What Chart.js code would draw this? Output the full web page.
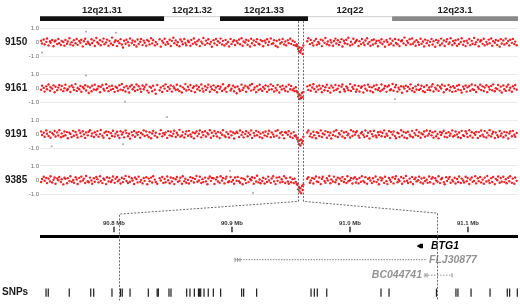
<!DOCTYPE html>
<html><head><meta charset="utf-8">
<script src="https://cdn.jsdelivr.net/npm/chart.js@4"></script>
<style>html,body{margin:0;padding:0;background:#fff;}canvas{display:block;}</style>
</head><body>
<canvas id="c" width="520" height="305"></canvas>
<script>
// ---------------- DATA ----------------
const samples = ['9150', '9161', '9191', '9385'];

const bandNames = ['12q21.31', '12q21.32', '12q21.33', '12q22', '12q23.1'];
const bandStart = [76.87, 83.57, 86.59, 91.34, 95.88];
const bandEnd   = [83.57, 86.59, 91.34, 95.88, 102.68];
const bandStain = ['gpos100', 'gneg', 'gpos100', 'gneg', 'gpos75'];

const zoomStart = 90.804, zoomEnd = 91.074;
const zoomTicks = [90.8, 90.9, 91.0, 91.1];
const panelTicks = [-1, 0, 1];

// probe positions (Mb) shared by all samples
const probePos = [
76.93,76.98,77.07,77.12,77.21,77.25,77.33,77.41,77.44,77.53,77.60,77.66,77.71,77.80,77.86,77.91,78.00,78.04,78.13,78.19,
78.24,78.33,78.37,78.46,78.51,78.58,78.66,78.70,78.79,78.85,78.90,78.99,79.05,79.10,79.18,79.24,79.31,79.36,79.45,79.50,
79.57,79.65,79.69,79.78,79.83,79.91,79.97,80.03,80.11,80.15,80.24,80.30,80.35,80.44,80.49,80.57,80.62,80.70,80.76,80.81,
80.90,80.95,81.03,81.08,81.16,81.22,81.29,81.35,81.41,81.49,81.54,81.62,81.68,81.73,81.82,81.87,81.95,82.00,82.08,82.14,
82.20,82.28,82.33,82.41,82.47,82.52,82.61,82.66,82.74,82.79,82.87,82.93,82.98,83.07,83.12,83.20,83.33,83.39,83.47,83.53,
83.60,83.65,83.74,83.79,83.87,83.93,83.99,84.07,84.12,84.20,84.26,84.31,84.40,84.45,84.53,84.58,84.66,84.72,84.77,84.86,
84.91,84.99,85.04,85.12,85.18,85.24,85.32,85.37,85.45,85.50,85.58,85.64,85.69,85.78,85.83,85.91,85.96,86.04,86.10,86.15,
86.24,86.29,86.37,86.43,86.48,86.57,86.62,86.70,86.75,86.83,86.89,86.94,87.03,87.08,87.16,87.21,87.29,87.35,87.40,87.49,
87.54,87.62,87.67,87.75,87.81,87.86,87.95,88.00,88.08,88.13,88.21,88.27,88.32,88.41,88.46,88.54,88.59,88.67,88.73,88.78,
88.87,88.92,89.00,89.05,89.13,89.19,89.24,89.33,89.38,89.46,89.51,89.59,89.65,89.70,89.79,89.84,89.92,89.97,90.05,90.11,
90.16,90.25,90.30,90.38,90.43,90.51,90.57,90.62,90.68,90.73,90.77,90.81,90.85,90.89,90.93,90.97,91.01,91.05,91.09,91.30,
91.36,91.44,91.49,91.57,91.63,91.68,91.77,91.82,91.90,91.95,92.03,92.09,92.14,92.23,92.28,92.36,92.41,92.49,92.55,92.60,
92.69,92.74,92.82,92.87,92.95,93.01,93.06,93.15,93.20,93.28,93.33,93.41,93.47,93.52,93.61,93.66,93.74,93.79,93.87,93.93,
93.98,94.07,94.12,94.20,94.25,94.33,94.39,94.44,94.53,94.58,94.66,94.71,94.79,94.85,94.90,94.99,95.04,95.12,95.17,95.25,
95.31,95.36,95.45,95.50,95.58,95.63,95.71,95.77,95.82,95.91,95.96,96.04,96.09,96.17,96.23,96.28,96.37,96.42,96.50,96.55,
96.63,96.69,96.74,96.83,96.88,96.96,97.01,97.09,97.15,97.20,97.29,97.34,97.42,97.47,97.55,97.61,97.66,97.75,97.80,97.88,
97.93,98.01,98.07,98.12,98.21,98.26,98.34,98.39,98.47,98.53,98.58,98.67,98.72,98.80,98.85,98.93,98.99,99.04,99.13,99.18,
99.26,99.31,99.39,99.45,99.50,99.59,99.64,99.72,99.77,99.85,99.91,99.96,100.05,100.10,100.18,100.23,100.31,100.37,100.42,100.51,
100.56,100.64,100.69,100.77,100.83,100.88,100.97,101.02,101.10,101.15,101.23,101.29,101.34,101.43,101.48,101.56,101.61,101.69,101.75,101.80,
101.89,101.94,102.02,102.07,102.15,102.21,102.26,102.35,102.40,102.48,102.53,102.61
];

// log2 ratios x100, one value per probe
const log2_9150 = [
12,-8,21,-15,4,28,-22,9,-3,17,-27,6,14,-11,25,-5,-19,11,3,-24,
18,-9,7,30,-14,2,-21,15,-6,24,-17,10,-2,19,-28,8,26,-12,5,-7,
-16,22,-4,13,-25,31,1,-10,16,-20,6,27,-13,-1,20,-23,11,-8,34,-18,
3,15,-26,9,-5,23,-15,-36,12,-9,19,2,-22,28,-4,14,-17,7,-29,21,
-11,5,25,-19,13,-2,-24,18,8,-14,29,-7,16,-21,3,-12,22,-30,10,-3,
26,-16,4,-9,19,-25,11,33,-6,14,-18,1,-27,21,7,-13,24,-4,-20,12,
2,-23,17,-10,28,-1,-15,9,20,-26,6,-8,31,-17,13,-5,22,-12,4,-31,
16,-7,24,-19,8,-3,27,-14,11,-22,18,-9,3,-28,25,-11,6,15,-18,10,
-4,21,-13,30,-24,7,-1,19,-16,12,-29,26,-6,14,-20,4,23,-9,-15,17,
9,-27,13,-2,22,-18,5,28,-11,-6,16,-23,10,-32,19,-8,2,24,-14,7,
-21,15,-5,26,-10,12,-19,4,-24,-15,-28,-46,-62,-35,-71,-55,-40,-82,-22,8,
29,-12,18,-4,-22,11,25,-16,3,-9,20,-26,14,-3,31,-13,7,-20,17,-1,
-24,10,27,-8,15,-17,2,23,-29,12,-6,19,-11,33,-21,5,-14,26,-3,8,
18,-25,9,-12,24,-2,-18,14,29,-9,4,-23,16,-15,21,-6,10,-27,13,-1,
22,-11,6,-30,17,3,-16,27,-8,12,-21,25,-4,-13,19,-26,8,15,-7,34,
-19,11,-2,23,-14,28,-9,5,-24,16,1,-17,26,-10,7,-28,20,-5,13,-22,
4,25,-15,9,-31,18,-3,12,-20,27,-8,14,-25,6,22,-12,-1,30,-18,10,
-6,16,-23,21,-11,3,29,-16,8,-26,13,-4,24,-19,11,-9,32,-14,2,19,
-27,7,15,-10,26,-21,4,-13,20,-5,28,-24,9,-2,17,-18,12,-30,23,-8,
14,-15,27,-6,10,-22,19,-3,25,-12,6,-20
];
const log2_9161 = [
-10,19,3,-23,14,-6,27,-17,8,-2,21,-28,11,-13,5,24,-9,16,-20,1,
25,-14,-4,12,-26,20,7,-11,30,-18,3,-7,17,-24,9,-1,22,-15,13,-33,
6,-21,18,-8,26,-12,-3,15,-27,10,23,-5,-16,29,2,-20,14,-10,19,-4,
-25,11,4,-17,22,-9,31,-13,7,-22,16,-1,-29,13,24,-6,8,-19,27,-11,
15,-3,-24,20,-7,9,26,-16,-30,12,4,-21,18,-10,-38,23,-14,6,-26,17,
-2,28,-18,10,-5,21,-23,14,1,-12,25,-8,-20,16,-29,7,-4,30,-15,11,
-9,24,-19,3,13,-27,20,-6,9,-16,27,-2,-22,15,-11,5,26,-24,12,-7,
21,-13,6,-28,17,-4,11,-19,29,-8,2,-25,14,23,-15,-3,19,-21,8,-35,
13,-6,-20,26,-11,4,18,-24,10,-1,22,-16,31,-9,6,-27,15,-12,25,-5,
-18,9,-3,21,-25,14,-10,28,-6,17,-22,3,-14,24,-29,11,-8,19,-2,-17,
12,-23,26,-7,16,-13,-2,-20,8,-18,-30,-58,-42,-75,-50,-68,-33,-61,-26,14,
-11,22,-17,6,29,-5,-24,13,-9,20,-1,-27,16,-14,8,25,-19,3,-30,18,
5,-16,24,-10,-2,19,-26,11,27,-7,-21,14,2,-13,30,-18,9,-4,22,-24,
-8,17,-22,4,13,-29,21,-3,-15,26,10,-19,7,-28,18,-6,24,-12,3,-20,
27,-10,-1,16,-25,12,20,-14,-6,31,-17,8,23,-23,4,-9,15,-31,11,-2,
19,-21,10,-5,28,-16,2,-26,14,-8,25,-12,-3,18,-20,9,-27,22,-11,6,
-14,13,29,-22,5,-7,21,-18,11,-1,26,-28,17,-10,-4,23,-15,8,-25,15,
3,-20,18,-9,24,-13,-30,12,-4,20,-23,7,16,-17,27,-6,-11,21,-26,10,
-3,25,-12,14,-19,6,22,-27,9,-8,17,-14,28,-21,1,-5,24,-16,12,-29,
20,-6,-18,11,26,-13,4,-24,15,-2,23,-10
];
const log2_9191 = [
20,-5,11,-18,26,3,-12,17,-25,8,-2,23,-16,13,-9,29,-21,6,-14,19,
-7,15,-28,10,2,-19,24,-11,16,-4,-23,27,9,-15,21,-1,-26,12,-8,18,
28,-13,5,-20,14,-3,22,-17,1,30,-10,-24,11,19,-6,16,-29,7,-12,25,
-16,4,18,-9,-27,21,-2,13,-22,26,8,-14,3,-31,15,-7,23,-18,10,-4,
17,-24,9,-1,27,-12,20,-6,-19,14,-28,5,24,-10,11,-21,2,29,-15,7,
-3,13,-26,22,-8,18,-14,4,25,-20,10,-5,31,-17,-9,15,-23,1,20,-11,
24,-2,-18,12,-29,7,19,-13,3,26,-22,14,-6,21,-16,9,-1,28,-25,11,
-12,23,5,-16,17,-27,10,-4,29,-10,-20,15,2,-23,20,-8,13,-30,6,18,
8,-19,26,-5,14,-22,1,21,-14,11,-3,27,-26,9,-11,24,-7,16,-20,4,
-27,12,-8,19,-15,3,25,-21,13,-1,-17,22,-10,28,-24,7,17,-6,-29,14,
10,-4,21,-18,6,-26,15,-11,-9,-22,-35,-52,-70,-44,-80,-37,-64,-48,-18,12,
26,-15,3,-22,18,-7,-28,14,9,-12,27,-19,5,-2,22,-25,16,-9,11,-30,
-5,20,-13,28,-20,8,-1,24,-16,12,-27,17,-8,4,-23,29,-12,19,-3,13,
22,-10,-24,7,16,-4,-19,26,-12,10,-30,21,1,-15,25,-8,-21,14,-5,18,
-14,9,27,-18,3,-11,23,-26,15,-2,19,-13,-28,11,6,-20,28,-9,16,-23,
11,-28,18,-3,-15,24,-21,8,-6,30,-12,14,-25,5,-1,20,-17,26,-10,3,
23,-8,13,-24,20,-14,2,-29,16,-5,11,25,-18,7,-22,15,-11,4,27,-16,
-9,19,-2,-21,12,-27,24,-7,-13,21,5,-19,28,-10,14,-24,8,-4,17,-26,
15,-12,26,-3,-17,22,-23,10,-8,29,-16,3,18,-27,12,-6,-20,23,-11,6,
-21,17,-9,13,-30,5,20,-14,24,-4,-18,9
];
const log2_9385 = [
-13,8,24,-4,15,-21,10,-9,28,-17,3,19,-26,12,-1,22,-14,6,-30,17,
9,-22,14,-6,27,-12,1,-18,21,5,-27,16,-10,25,-3,11,-20,29,-8,-15,
18,-2,-25,13,-11,23,7,-16,28,-5,-21,12,3,-28,20,-9,15,-13,-1,26,
-19,10,22,-8,4,-24,17,-14,9,30,-6,-20,24,-11,13,-3,-27,19,7,-16,
25,-12,2,-23,16,-5,21,-29,11,-7,18,-17,27,4,-13,-26,14,-2,22,-20,
8,-15,26,-1,-22,19,-10,13,-28,6,23,-12,-4,17,-25,28,-7,10,-18,2,
-24,21,-6,15,-17,9,29,-11,-3,24,-20,7,-14,18,-9,-29,12,26,-5,16,
13,-27,4,20,-10,-19,27,-2,16,-23,10,25,-15,-7,22,-12,1,-26,19,-4,
23,-8,-18,14,-29,11,3,-21,26,-14,8,-1,20,-25,15,-10,31,-16,5,-22,
-6,17,-24,9,-13,25,-3,-19,12,28,-9,-28,18,-5,21,-16,6,-11,27,-20,
14,-10,-26,19,-15,7,-21,11,-12,-25,-33,-65,-48,-80,-57,-92,-41,-70,-30,10,
21,-18,-3,16,-24,10,26,-9,-14,19,-28,8,24,-6,-19,13,-2,29,-22,5,
-10,25,-15,3,18,-27,12,-4,22,-13,7,-20,27,-8,-1,16,-24,11,20,-17,
6,-23,15,-11,28,-5,-16,21,-26,9,17,-3,-21,13,-9,26,-14,4,-29,19,
-2,12,-19,24,-7,-28,16,3,-12,20,-23,10,27,-15,5,-6,22,-25,14,-10,
29,-4,-20,11,-13,23,-27,7,18,-9,-1,25,-16,12,-24,17,-7,3,-19,26,
-15,9,20,-26,14,-3,-11,27,-21,6,16,-14,-29,21,-6,10,23,-18,2,-9,
17,-24,8,-13,26,-20,11,-2,-17,24,-8,15,-27,5,19,-12,-5,28,-23,13,
-7,22,-16,4,-25,18,-10,29,-3,-21,14,-13,23,-28,9,-1,26,-18,15,-11,
24,-14,6,-22,17,-8,27,-19,11,-26,19,-5
];

// excluded / outlier probes (Mb, log2 ratio)
const gray9150 = [[79.35, 0.75], [80.97, 0.68], [76.98, -0.72]];
const gray9161 = [[79.35, 0.90], [81.46, -0.95], [96.04, -0.75]];
const gray9191 = [[83.73, 1.22], [77.50, -0.85], [81.35, -0.70]];
const gray9385 = [[87.13, 0.65], [88.37, -0.90]];

// SNP positions (Mb) in the zoomed window
const snpPos = [90.7424,90.7443,90.7621,90.7803,90.7828,90.7983,90.8055,90.8070,90.8136,90.8291,
90.8366,90.8376,90.8466,90.8483,90.8616,90.8644,90.8681,90.8716,90.8726,90.8735,90.8763,90.8799,
90.8842,90.8904,90.9082,90.9099,90.9209,90.9670,90.9698,90.9723,90.9803,91.0263,91.0331,91.0733,
91.0898,91.0915,91.1026,91.1187,91.1333,91.1353,91.1418];

// genes in the zoomed window
const geneNames = ['BTG1', 'FLJ30877', 'BC044741'];
const geneStart = [91.0585, 90.9026, 91.0636];
const geneEnd   = [91.0619, 91.0653, 91.0865];
const exonsFLJ30877 = [90.9026, 90.9047, 90.9068];
const exonsBC044741 = [91.0636, 91.0653, 91.0865];

// ---------------- LAYOUT / STYLE ----------------
const FONT = '"Liberation Sans", Arial, Helvetica, sans-serif';
const X_MIN = 76.87, X_MAX = 102.68, Z_MIN = 90.7373, Z_MAX = 91.1424;
const AXIS_W = 40;
const H_BAND = 17, H_PANEL = 47.333, H_LOW = 98.667;
const PANEL_MIN = -1.735, PANEL_MAX = 1.507;
const BAND_MID = 0.147, BAND_EDGE = 0.265, BAND_LABEL = 0.68;
const LOW_MAX = 9.867;
const ROW_CONN_L = 0.97, ROW_CONN_R = 0.87, ROW_AXLABEL = 1.87, ROW_TICK = 2.55, ROW_AXIS = 3.27;
const ROW_GENE = [4.27, 5.67, 7.27], ROW_SNP = 9.07;
const CONN_BREAK = -1.5;
const stainColor = {gpos100: '#111111', gpos75: '#898989'};
const sampleLog2 = [log2_9150, log2_9161, log2_9191, log2_9385];
const sampleGray = [gray9150, gray9161, gray9191, gray9385];

function lineDs(xid, yid, pts, color, width, dash) {
  return {type: 'line', xAxisID: xid, yAxisID: yid, data: pts.map(([x, y]) => ({x, y})),
    borderColor: color, borderWidth: width, borderDash: dash || [], borderCapStyle: 'butt',
    pointRadius: 0, fill: false, tension: 0};
}
function markDs(xid, yid, pts, opts) {
  return Object.assign({type: 'scatter', xAxisID: xid, yAxisID: yid, showLine: false,
    data: pts.map(([x, y]) => ({x, y}))}, opts);
}

const datasets = [];
bandNames.forEach((n, i) => {
  if (bandStain[i] === 'gneg') {
    datasets.push(lineDs('x', 'yBand', [[bandStart[i], BAND_EDGE], [bandEnd[i], BAND_EDGE]], '#cdcdcd', 1));
  } else {
    datasets.push(lineDs('x', 'yBand', [[bandStart[i], BAND_MID], [bandEnd[i], BAND_MID]], stainColor[bandStain[i]], 5));
  }
});
samples.forEach((s, k) => {
  datasets.push(markDs('x', 'y' + s, probePos.map((p, i) => [p, sampleLog2[k][i] / 100]),
    {pointRadius: 1.2, pointBackgroundColor: 'rgba(236,10,16,0.9)', pointBorderWidth: 0}));
  datasets.push(markDs('x', 'y' + s, sampleGray[k],
    {pointRadius: 1.0, pointBackgroundColor: 'rgba(150,150,150,0.85)', pointBorderWidth: 0}));
});
// zoom axis line + ticks
datasets.push(lineDs('xz', 'yLow', [[Z_MIN, ROW_AXIS], [Z_MAX, ROW_AXIS]], '#000', 3));
datasets.push(markDs('xz', 'yLow', zoomTicks.map(v => [v, ROW_TICK]),
  {pointStyle: 'line', rotation: 90, pointRadius: 2.8, pointBorderWidth: 1.5, pointBorderColor: '#333'}));
// genes
datasets.push(lineDs('xz', 'yLow', [[geneStart[0] + 0.0008, ROW_GENE[0]], [geneEnd[0], ROW_GENE[0]]], '#000', 4.5));
datasets.push(markDs('xz', 'yLow', [[geneStart[0], ROW_GENE[0]]],
  {pointStyle: 'triangle', rotation: -90, pointRadius: 2.4, pointBackgroundColor: '#000', pointBorderWidth: 0}));
datasets.push(lineDs('xz', 'yLow', [[geneStart[1], ROW_GENE[1]], [geneEnd[1], ROW_GENE[1]]], '#9a9a9a', 1.2, [1.5, 1.2]));
datasets.push(markDs('xz', 'yLow', exonsFLJ30877.map(v => [v, ROW_GENE[1]]),
  {pointStyle: 'line', rotation: 90, pointRadius: 2, pointBorderWidth: 1.2, pointBorderColor: '#9a9a9a'}));
datasets.push(lineDs('xz', 'yLow', [[geneStart[2], ROW_GENE[2]], [geneEnd[2], ROW_GENE[2]]], '#9a9a9a', 1, [1.5, 1.5]));
datasets.push(markDs('xz', 'yLow', exonsBC044741.map(v => [v, ROW_GENE[2]]),
  {pointStyle: 'line', rotation: 90, pointRadius: 2, pointBorderWidth: 1.2, pointBorderColor: '#9a9a9a'}));
// SNPs
datasets.push(markDs('xz', 'yLow', snpPos.map(v => [v, ROW_SNP]),
  {pointStyle: 'line', rotation: 90, pointRadius: 4.2, pointBorderWidth: 1.2, pointBorderColor: '#1c1c1c'}));

function panelScale(weight) {
  return {
    type: 'linear', position: 'left', stack: 'v', stackWeight: H_PANEL, weight,
    min: PANEL_MIN, max: PANEL_MAX,
    afterBuildTicks: sc => { sc.ticks = panelTicks.map(v => ({value: v})); },
    afterFit: sc => { sc.width = AXIS_W; },
    ticks: {font: {family: FONT, size: 6}, color: '#6a6a6a', padding: 1, autoSkip: false,
      callback: v => v === 0 ? '0' : v.toFixed(1)},
    grid: {drawTicks: false, color: c => (c.tick && c.tick.value !== 0) ? '#ebebeb' : 'rgba(0,0,0,0)'},
    border: {display: false}
  };
}

const annot = {
  id: 'annot',
  afterDatasetsDraw(chart) {
    const ctx = chart.ctx, s = chart.scales;
    ctx.save();
    ctx.textBaseline = 'middle';
    // cytoband labels
    ctx.fillStyle = '#1e1e1e'; ctx.font = 'bold 9.5px ' + FONT; ctx.textAlign = 'center';
    bandNames.forEach((n, i) => ctx.fillText(n, s.x.getPixelForValue((bandStart[i] + bandEnd[i]) / 2), s.yBand.getPixelForValue(BAND_LABEL)));
    // sample labels
    ctx.font = 'bold 10px ' + FONT; ctx.textAlign = 'left'; ctx.fillStyle = '#1a1a1a';
    samples.forEach(sm => ctx.fillText(sm, 5, s['y' + sm].getPixelForValue(0)));
    ctx.fillText('SNPs', 2, s.yLow.getPixelForValue(ROW_SNP));
    // zoom axis labels
    ctx.font = 'bold 6px ' + FONT; ctx.textAlign = 'center'; ctx.fillStyle = '#333';
    zoomTicks.forEach(v => ctx.fillText(v.toFixed(1) + ' Mb', s.xz.getPixelForValue(v), s.yLow.getPixelForValue(ROW_AXLABEL)));
    // gene labels
    ctx.font = 'italic bold 10.5px ' + FONT; ctx.fillStyle = '#000'; ctx.textAlign = 'left';
    ctx.fillText(geneNames[0], s.xz.getPixelForValue(geneEnd[0]) + 8, s.yLow.getPixelForValue(ROW_GENE[0]));
    ctx.fillStyle = '#939393';
    ctx.fillText(geneNames[1], s.xz.getPixelForValue(geneEnd[1]) + 2, s.yLow.getPixelForValue(ROW_GENE[1]));
    ctx.textAlign = 'right';
    ctx.fillText(geneNames[2], s.xz.getPixelForValue(geneStart[2]) - 3, s.yLow.getPixelForValue(ROW_GENE[2]));
    // connector lines
    ctx.strokeStyle = '#6a6a6a'; ctx.lineWidth = 1; ctx.setLineDash([2, 1.5]);
    [[zoomStart, ROW_CONN_L], [zoomEnd, ROW_CONN_R]].forEach(([v, row]) => {
      const xt = Math.round(s.x.getPixelForValue(v)) + 0.5;
      const xb = Math.round(s.xz.getPixelForValue(v)) + 0.5;
      ctx.beginPath();
      ctx.moveTo(xt, s.yBand.getPixelForValue(0));
      ctx.lineTo(xt, s.y9385.getPixelForValue(CONN_BREAK));
      ctx.lineTo(xb, s.yLow.getPixelForValue(row));
      ctx.lineTo(xb, s.yLow.getPixelForValue(LOW_MAX));
      ctx.stroke();
    });
    ctx.restore();
  }
};

new Chart(document.getElementById('c'), {
  type: 'scatter',
  data: {datasets},
  options: {
    responsive: false, animation: false, devicePixelRatio: 1, events: [],
    layout: {padding: {left: 0, right: 2, top: 0, bottom: 0}, autoPadding: false},
    plugins: {legend: {display: false}, tooltip: {enabled: false}},
    scales: {
      x:  {type: 'linear', position: 'bottom', display: false, min: X_MIN, max: X_MAX},
      xz: {type: 'linear', position: 'bottom', display: false, min: Z_MIN, max: Z_MAX},
      yBand: {type: 'linear', position: 'left', stack: 'v', stackWeight: H_BAND, weight: 60, display: false, min: 0, max: 1},
      y9150: panelScale(50),
      y9161: panelScale(40),
      y9191: panelScale(30),
      y9385: panelScale(20),
      yLow: {type: 'linear', position: 'left', stack: 'v', stackWeight: H_LOW, weight: 10, display: false, min: 0, max: LOW_MAX, reverse: true}
    }
  },
  plugins: [annot]
});
</script>
</body></html>
